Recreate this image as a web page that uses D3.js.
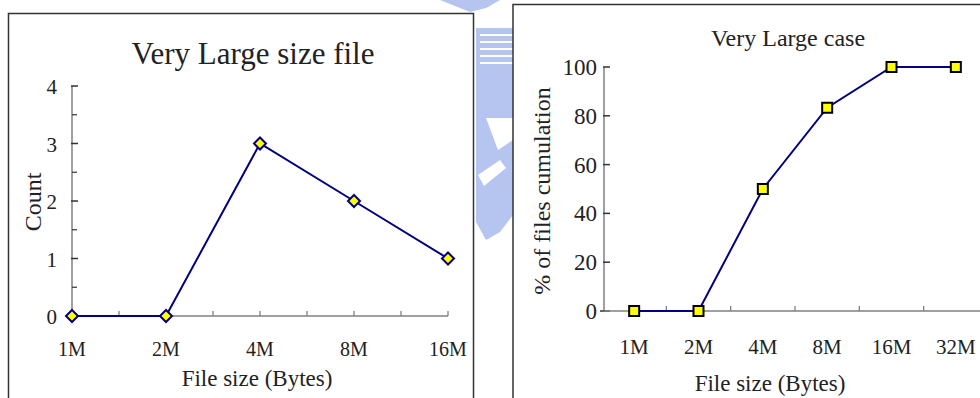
<!DOCTYPE html>
<html>
<head>
<meta charset="utf-8">
<script src="https://cdn.jsdelivr.net/npm/d3@7/dist/d3.min.js"></script>
<style>
  html, body { margin: 0; padding: 0; background: #ffffff; }
  svg { display: block; }
  text { font-family: "Liberation Serif", "DejaVu Serif", serif; fill: #222222; }
</style>
</head>
<body>
<svg id="chart" width="980" height="398"></svg>
<script>
// ---- data ----
const countCategories = ["1M", "2M", "4M", "8M", "16M"];
const countValues = [0, 0, 3, 2, 1];
const countTicks = [0, 1, 2, 3, 4];

const cumulCategories = ["1M", "2M", "4M", "8M", "16M", "32M"];
const cumulValues = [0, 0, 50, 83.3, 100, 100];
const cumulTicks = [0, 20, 40, 60, 80, 100];

const leftTitle = "Very Large size file";
const rightTitle = "Very Large case";
const leftYLabel = "Count";
const rightYLabel = "% of files cumulation";
const xLabel = "File size (Bytes)";

const svg = d3.select("#chart");
const NAVY = "#000080";
const AXIS = "#808080";

// ---- faint background watermark in the gap ----
const wm = svg.append("g").attr("fill", "#b6c4f0");
wm.append("path").attr("d", "M440,0 L500,0 L486,8 L470,12 Z");
wm.append("rect").attr("x", 476).attr("y", 28).attr("width", 37).attr("height", 48);
wm.append("path").attr("d", "M476,76 L513,76 L513,215 L500,232 L486,240 L476,222 Z");
const stripes = svg.append("g").attr("fill", "#ffffff");
[34, 41, 48, 55, 62].forEach(y => stripes.append("rect").attr("x", 480).attr("y", y).attr("width", 33).attr("height", 2));
svg.append("path").attr("d", "M486,118 L513,118 L513,140 L498,150 Z").attr("fill", "#ffffff");
svg.append("path").attr("d", "M478,175 L500,160 L506,168 L484,186 Z").attr("fill", "#ffffff");

// ---- panel frames ----
svg.append("rect").attr("x", 8.5).attr("y", 13.5).attr("width", 465).attr("height", 420)
  .attr("fill", "#ffffff").attr("stroke", "#333333").attr("stroke-width", 1.5);
svg.append("rect").attr("x", 513).attr("y", 4.5).attr("width", 480).attr("height", 420)
  .attr("fill", "#ffffff").attr("stroke", "#333333").attr("stroke-width", 1.5);

// ================= LEFT CHART =================
const xL = d3.scalePoint().domain(countCategories).range([72, 448]);
const yL = d3.scaleLinear().domain([0, 4]).range([316, 86]);

const gL = svg.append("g");
gL.append("line").attr("x1", 72).attr("x2", 72).attr("y1", yL(4)).attr("y2", yL(0))
  .attr("stroke", AXIS).attr("stroke-width", 1.5);
gL.selectAll(".ymaj").data(countTicks).join("line")
  .attr("x1", 71).attr("x2", 78).attr("y1", d => yL(d)).attr("y2", d => yL(d))
  .attr("stroke", "#333").attr("stroke-width", 1.5);
gL.selectAll(".ymin").data(countTicks.slice(0, -1)).join("line")
  .attr("x1", 72).attr("x2", 77).attr("y1", d => yL(d + 0.5)).attr("y2", d => yL(d + 0.5))
  .attr("stroke", "#333").attr("stroke-width", 1.2);
gL.selectAll(".ylab").data(countTicks).join("text")
  .attr("x", 57).attr("y", d => yL(d) + 8).attr("text-anchor", "end")
  .attr("font-size", 21).text(d => d);
gL.append("line").attr("x1", 72).attr("x2", 448).attr("y1", yL(0)).attr("y2", yL(0))
  .attr("stroke", AXIS).attr("stroke-width", 1.5);
const stepL = xL.step();
const xTickPosL = [];
countCategories.forEach((c, i) => {
  xTickPosL.push(xL(c));
  if (i < countCategories.length - 1) xTickPosL.push(xL(c) + stepL / 2);
});
gL.selectAll(".xt").data(xTickPosL).join("line")
  .attr("x1", d => d).attr("x2", d => d).attr("y1", yL(0)).attr("y2", yL(0) - 5)
  .attr("stroke", AXIS).attr("stroke-width", 1.3);
gL.selectAll(".xlab").data(countCategories).join("text")
  .attr("x", d => xL(d)).attr("y", 356).attr("text-anchor", "middle")
  .attr("font-size", 20).text(d => d);
const lineL = d3.line().x((d, i) => xL(countCategories[i])).y(d => yL(d));
gL.append("path").datum(countValues).attr("d", lineL)
  .attr("fill", "none").attr("stroke", NAVY).attr("stroke-width", 2);
gL.selectAll(".mk").data(countValues).join("path")
  .attr("transform", (d, i) => `translate(${xL(countCategories[i])},${yL(d)})`)
  .attr("d", "M0,-6 L6,0 L0,6 L-6,0 Z")
  .attr("fill", "#ffff00").attr("stroke", NAVY).attr("stroke-width", 2);
gL.append("text").attr("x", 253).attr("y", 64).attr("text-anchor", "middle")
  .attr("font-size", 31).text(leftTitle);
gL.append("text").attr("transform", "translate(41,202) rotate(-90)").attr("text-anchor", "middle")
  .attr("font-size", 24).text(leftYLabel);
gL.append("text").attr("x", 257).attr("y", 386).attr("text-anchor", "middle")
  .attr("font-size", 23).text(xLabel);

// ================= RIGHT CHART =================
const xR = d3.scaleBand().domain(cumulCategories).range([602, 988]);
const yR = d3.scaleLinear().domain([0, 100]).range([311, 67]);
const gR = svg.append("g");
gR.append("line").attr("x1", 604).attr("x2", 604).attr("y1", yR(100)).attr("y2", yR(0))
  .attr("stroke", AXIS).attr("stroke-width", 1.5);
gR.selectAll(".ymaj").data(cumulTicks).join("line")
  .attr("x1", d => d === 0 ? 600 : 603).attr("x2", 610).attr("y1", d => yR(d)).attr("y2", d => yR(d))
  .attr("stroke", "#333").attr("stroke-width", 1.5);
gR.selectAll(".ylab").data(cumulTicks).join("text")
  .attr("x", 597).attr("y", d => yR(d) + 8).attr("text-anchor", "end")
  .attr("font-size", 23).text(d => d);
gR.append("line").attr("x1", 604).attr("x2", 990).attr("y1", yR(0)).attr("y2", yR(0))
  .attr("stroke", AXIS).attr("stroke-width", 1.5);
const bounds = cumulCategories.slice(1).map(c => xR(c));
gR.selectAll(".xt").data(bounds).join("line")
  .attr("x1", d => d).attr("x2", d => d).attr("y1", yR(0)).attr("y2", yR(0) - 5)
  .attr("stroke", AXIS).attr("stroke-width", 1.3);
gR.selectAll(".xlab").data(cumulCategories).join("text")
  .attr("x", d => xR(d) + xR.bandwidth() / 2).attr("y", 354).attr("text-anchor", "middle")
  .attr("font-size", 21).text(d => d);
const lineR = d3.line().x((d, i) => xR(cumulCategories[i]) + xR.bandwidth() / 2).y(d => yR(d));
gR.append("path").datum(cumulValues).attr("d", lineR)
  .attr("fill", "none").attr("stroke", NAVY).attr("stroke-width", 2);
gR.selectAll(".mk").data(cumulValues).join("rect")
  .attr("x", (d, i) => xR(cumulCategories[i]) + xR.bandwidth() / 2 - 5)
  .attr("y", d => yR(d) - 5).attr("width", 10).attr("height", 10)
  .attr("fill", "#ffff00").attr("stroke", "#000").attr("stroke-width", 2);
gR.append("text").attr("x", 788).attr("y", 46).attr("text-anchor", "middle")
  .attr("font-size", 24).text(rightTitle);
gR.append("text").attr("transform", "translate(550,191) rotate(-90)").attr("text-anchor", "middle")
  .attr("font-size", 24).text(rightYLabel);
gR.append("text").attr("x", 770).attr("y", 391).attr("text-anchor", "middle")
  .attr("font-size", 23).text(xLabel);
</script>
</body>
</html>
